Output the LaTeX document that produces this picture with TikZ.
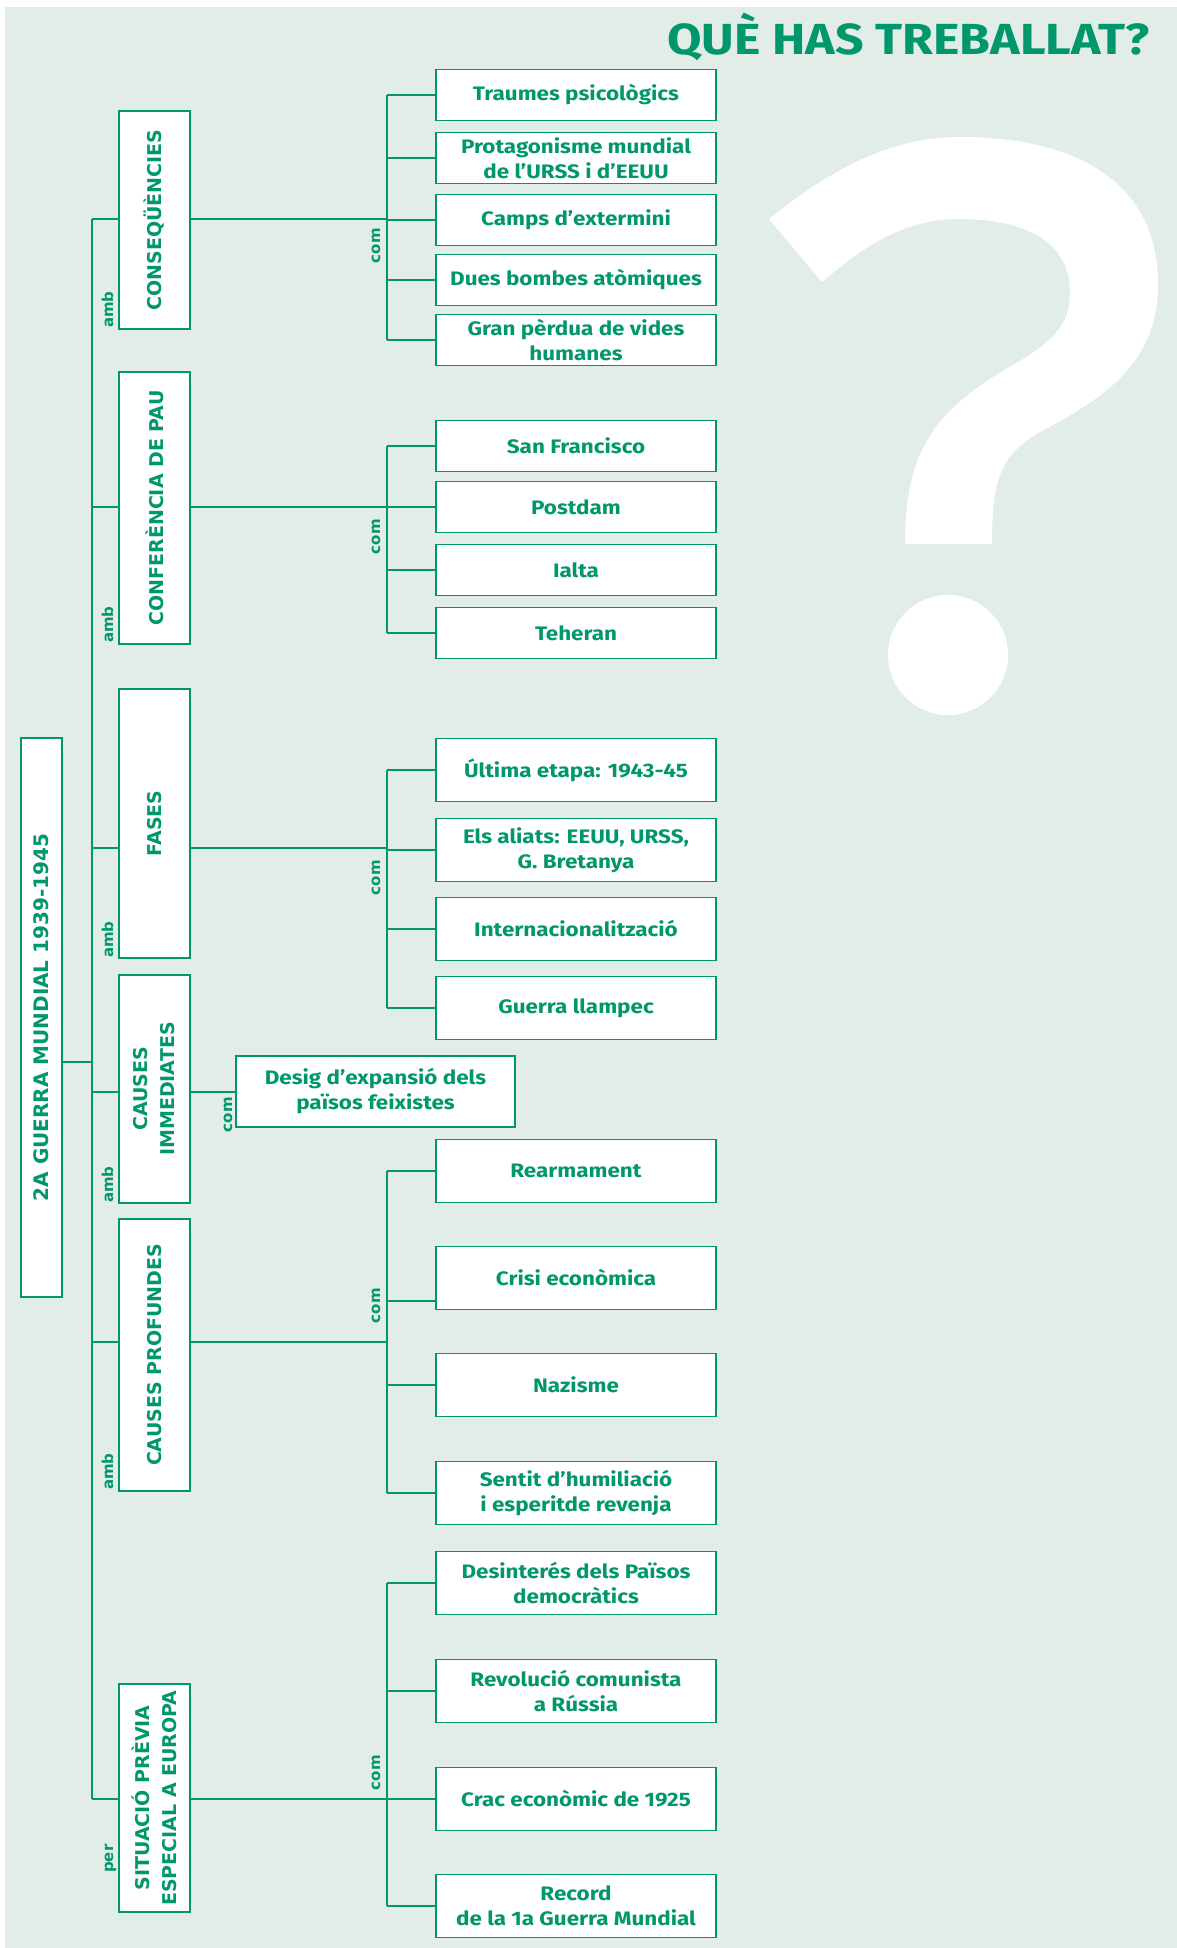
\documentclass[tikz,border=0pt]{standalone}
\usepackage{fontspec}
\setmainfont{Fira Sans}[FakeStretch=1.15]
\newfontfamily\capsfont{DejaVu Sans}
\usepackage{tikz}
\usetikzlibrary{positioning,calc}

\definecolor{verd}{HTML}{00976C}
\definecolor{fons}{HTML}{E3EDE7}

\begin{document}
\begin{tikzpicture}[
  x=1pt, y=-1pt,
  every node/.style={text=verd},
  fulla/.style={rectangle, draw=verd, line width=1.6pt, fill=white, align=center,
                minimum width=280pt, minimum height=51pt, inner sep=2pt,
                font=\bfseries\fontsize{19.5}{25}\selectfont},
  fullaalta/.style={fulla, minimum height=63pt},
  tema/.style={rectangle, draw=verd, line width=1.6pt, fill=white, rotate=90,
               align=center, minimum height=71pt, inner xsep=0pt, inner ysep=2pt,
               font=\capsfont\bfseries\fontsize{19}{27}\selectfont},
  etiq/.style={rotate=90, inner sep=0pt, font=\capsfont\bfseries\fontsize{15}{15}\selectfont},
  lin/.style={draw=verd, line width=1.5pt}
]
\useasboundingbox (0,0) rectangle (1177,1948);
\fill[fons] (5,7) rectangle (1177,1948);

% big question mark behind everything
\fill[white] (769,219) .. controls (830,170) and (890,137) .. (960,137)
  .. controls (1080,137) and (1158,185) .. (1158,284)
  .. controls (1158,360) and (1110,395) .. (1040,432)
  .. controls (1000,455) and (992,480) .. (992,544)
  -- (905,544)
  .. controls (905,450) and (935,410) .. (1013,365)
  .. controls (1060,338) and (1070,320) .. (1070,292)
  .. controls (1070,245) and (1030,219) .. (960,219)
  .. controls (900,219) and (860,250) .. (822,282) -- cycle;
\fill[white] (948,655) circle[radius=60pt];

\node[anchor=base east, font=\bfseries\fontsize{43.5}{44}\selectfont] (titol) at (1153,55) {QUÈ HAS TREBALLAT?};

% main box and the themes
\node[tema, minimum width=559pt, minimum height=41pt,
      font=\capsfont\bfseries\fontsize{20}{24}\selectfont] (guerra) at (41.5,1017.5) {2A GUERRA MUNDIAL 1939-1945};
\node[tema, minimum width=218pt] (k1) at (154.5,220) {CONSEQÜÈNCIES};
\node[tema, minimum width=272pt] (k2) at (154.5,508) {CONFERÈNCIA DE PAU};
\node[tema, minimum width=269pt] (k3) at (154.5,823.5) {FASES};
\node[tema, minimum width=228pt] (k4) at (154.5,1089) {CAUSES\\IMMEDIATES};
\node[tema, minimum width=272pt] (k5) at (154.5,1355) {CAUSES PROFUNDES};
\node[tema, minimum width=228pt] (k6) at (154.5,1798) {SITUACIÓ PRÈVIA\\ESPECIAL A EUROPA};

% consequencies
\node[fulla] (c1) at (576,95) {Traumes psicològics};
\node[fulla] (c2) at (576,158) {Protagonisme mundial\\de l’URSS i d’EEUU};
\node[fulla] (c3) at (576,220) {Camps d’extermini};
\node[fulla] (c4) at (576,280) {Dues bombes atòmiques};
\node[fulla] (c5) at (576,340) {Gran pèrdua de vides\\humanes};

% conferencia de pau
\node[fulla] (p1) at (576,446) {San Francisco};
\node[fulla] (p2) at (576,507) {Postdam};
\node[fulla] (p3) at (576,570) {Ialta};
\node[fulla] (p4) at (576,633) {Teheran};

% fases
\node[fullaalta] (f1) at (576,770) {Última etapa: 1943-45};
\node[fullaalta] (f2) at (576,850) {Els aliats: EEUU, URSS,\\G. Bretanya};
\node[fullaalta] (f3) at (576,929) {Internacionalització};
\node[fullaalta] (f4) at (576,1008) {Guerra llampec};

% causes immediates
\node[fulla, minimum width=279pt, minimum height=71pt] (d1) at (375.5,1091.5) {Desig d’expansió dels\\països feixistes};

% causes profundes
\node[fullaalta] (r1) at (576,1171) {Rearmament};
\node[fullaalta] (r2) at (576,1278) {Crisi econòmica};
\node[fullaalta] (r3) at (576,1385) {Nazisme};
\node[fullaalta] (r4) at (576,1493) {Sentit d’humiliació\\i esperitde revenja};

% situacio previa
\node[fullaalta] (s1) at (576,1583) {Desinterés dels Països\\democràtics};
\node[fullaalta] (s2) at (576,1691) {Revolució comunista\\a Rússia};
\node[fullaalta] (s3) at (576,1799) {Crac econòmic de 1925};
\node[fullaalta] (s4) at (576,1906) {Record\\de la 1a Guerra Mundial};

% junctions
\coordinate (tronc) at (92,1062);
\coordinate (j1) at (387,219);
\coordinate (j2) at (387,507);
\coordinate (j3) at (387,848);
\coordinate (j4) at (236,1092);
\coordinate (j5) at (387,1342);
\coordinate (j6) at (387,1799);
\coordinate (jr2) at (387,1301);

\draw[lin] (guerra.south |- tronc) -- (tronc);
\draw[lin] (tronc |- j1) -- (tronc |- j6);
\foreach \j/\k in {j1/k1, j2/k2, j3/k3, j4/k4, j5/k5, j6/k6} {
  \draw[lin] (tronc |- \j) -- (\k.north |- \j);
  \draw[lin] (\k.south |- \j) -- (\j);
}
\draw[lin] (j1 |- c1.west) -- (j1 |- c5.west);
\draw[lin] (j2 |- p1.west) -- (j2 |- p4.west);
\draw[lin] (j3 |- f1.west) -- (j3 |- f4.west);
\draw[lin] (j5 |- r1.west) -- (j5 |- r4.west);
\draw[lin] (j6 |- s1.west) -- (j6 |- s4.west);
\foreach \j/\f in {j1/c1, j1/c2, j1/c3, j1/c4, j1/c5, j2/p1, j2/p2, j2/p3, j2/p4,
                   j3/f1, j3/f2, j3/f3, j3/f4, j5/r1, j5/r3, j5/r4,
                   j6/s1, j6/s2, j6/s3, j6/s4}
  \draw[lin] (\j |- \f.west) -- (\f.west);
\draw[lin] (jr2) -- (r2.west |- jr2);

% link words
\node[etiq, anchor=base west] (a1) at (113,328) {amb};
\node[etiq, anchor=base west] (a2) at (113,643) {amb};
\node[etiq, anchor=base west] (a3) at (113,958) {amb};
\node[etiq, anchor=base west] (a4) at (113,1203) {amb};
\node[etiq, anchor=base west] (a5) at (113,1490) {amb};
\node[etiq, anchor=base west] (a6) at (113,1873) {per};
\node[etiq, anchor=base east] (m1) at (380,228) {com};
\node[etiq, anchor=base east] (m2) at (380,519) {com};
\node[etiq, anchor=base east] (m3) at (380,860) {com};
\node[etiq, anchor=base east] (m4) at (232,1097) {com};
\node[etiq, anchor=base east] (m5) at (380,1288) {com};
\node[etiq, anchor=base east] (m6) at (380,1755) {com};
\end{tikzpicture}
\end{document}
